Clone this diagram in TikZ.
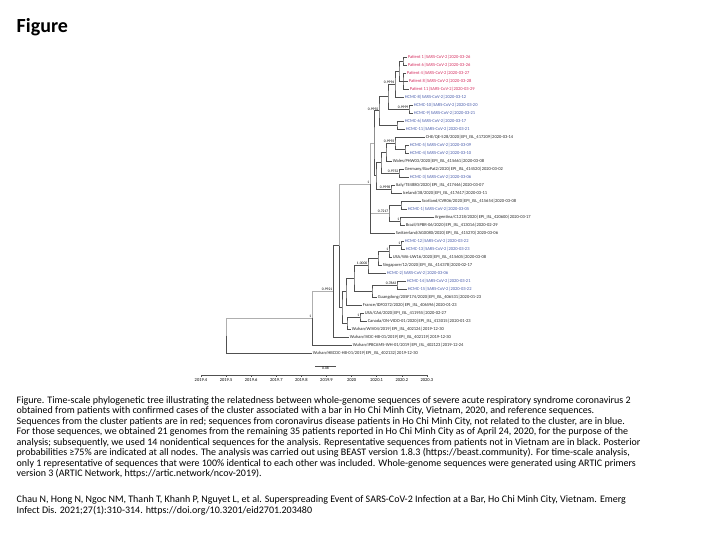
\documentclass[tikz,border=0pt]{standalone}
\usepackage{fontspec}
\setmainfont{Carlito}
\definecolor{clustred}{RGB}{214,46,96}
\definecolor{hcmcblue}{RGB}{72,92,172}
\definecolor{branchdark}{RGB}{80,80,80}
\definecolor{branchlight}{RGB}{175,175,175}
\tikzset{
  br/.style={draw=branchdark, line width=0.6pt},
  brl/.style={draw=branchlight, line width=0.6pt},
  tip/.style={anchor=west, inner sep=0.6pt, font=\fontsize{4.5}{5}\selectfont, text=black!85},
  tipred/.style={tip, text=clustred},
  tipblue/.style={tip, text=hcmcblue},
  post/.style={anchor=south east, inner sep=0.5pt, font=\fontsize{3.7}{4}\selectfont},
  captline/.style={anchor=base west, inner sep=0pt, font=\fontsize{10}{10.5}\selectfont},
}

\begin{document}
\begin{tikzpicture}[x=1pt,y=-1pt]
  % page
  \fill[white] (0,0) rectangle (720,540);
  \useasboundingbox (0,0) rectangle (720,540);
  \node[anchor=base west, inner sep=0pt, font=\fontsize{20}{24}\selectfont\bfseries] (title) at (16.5,33) {Figure};

  % tips, top to bottom
  \node[tipred]  (l1)  at (407,57)  {Patient 1|SARS-CoV-2|2020-03-26};
  \node[tipred]  (l2)  at (407,65)  {Patient 6|SARS-CoV-2|2020-03-26};
  \node[tipred]  (l3)  at (406,73)  {Patient 4|SARS-CoV-2|2020-03-27};
  \node[tipred]  (l4)  at (408,81)  {Patient 8|SARS-CoV-2|2020-03-28};
  \node[tipred]  (l5)  at (409,89)  {Patient 11|SARS-CoV-2|2020-03-29};
  \node[tipblue] (l6)  at (404,97)  {HCMC-8|SARS-CoV-2|2020-03-12};
  \node[tipblue] (l7)  at (413,105) {HCMC-10|SARS-CoV-2|2020-03-20};
  \node[tipblue] (l8)  at (413,113) {HCMC-9|SARS-CoV-2|2020-03-21};
  \node[tipblue] (l9)  at (404,121) {HCMC-6|SARS-CoV-2|2020-03-17};
  \node[tipblue] (l10) at (405,129) {HCMC-11|SARS-CoV-2|2020-03-21};
  \node[tip]     (l11) at (425,137) {CHE/QE-528/2020|EPI\_ISL\_417209|2020-03-14};
  \node[tipblue] (l12) at (409,145) {HCMC-5|SARS-CoV-2|2020-03-09};
  \node[tipblue] (l13) at (409,153) {HCMC-4|SARS-CoV-2|2020-03-10};
  \node[tip]     (l14) at (392,161) {Wales/PHW03/2020|EPI\_ISL\_415661|2020-03-08};
  \node[tip]     (l15) at (404,169) {Germany/BavPat2/2020|EPI\_ISL\_414520|2020-03-02};
  \node[tipblue] (l16) at (409,177) {HCMC-3|SARS-CoV-2|2020-03-06};
  \node[tip]     (l17) at (395,185) {Italy/TE4880/2020|EPI\_ISL\_417446|2020-03-07};
  \node[tip]     (l18) at (402,193) {Iceland/38/2020|EPI\_ISL\_417617|2020-03-11};
  \node[tip]     (l19) at (421,201) {Scotland/CVR06/2020|EPI\_ISL\_415654|2020-03-08};
  \node[tipblue] (l20) at (407,209) {HCMC-1|SARS-CoV-2|2020-03-05};
  \node[tip]     (l21) at (434,217) {Argentina/C1218/2020|EPI\_ISL\_420600|2020-03-17};
  \node[tip]     (l22) at (405,225) {Brazil/SPBR-06/2020|EPI\_ISL\_413016|2020-02-29};
  \node[tip]     (l23) at (395,233) {Switzerland/AG0080/2020|EPI\_ISL\_415270|2020-03-06};
  \node[tipblue] (l24) at (404,241) {HCMC-12|SARS-CoV-2|2020-03-22};
  \node[tipblue] (l25) at (405,249) {HCMC-13|SARS-CoV-2|2020-03-23};
  \node[tip]     (l26) at (392,257) {USA/WA-UW16/2020|EPI\_ISL\_415605|2020-03-08};
  \node[tip]     (l27) at (382,265) {Singapore/12/2020|EPI\_ISL\_414378|2020-02-17};
  \node[tipblue] (l28) at (386,273) {HCMC-2|SARS-CoV-2|2020-03-06};
  \node[tipblue] (l29) at (406,281) {HCMC-14|SARS-CoV-2|2020-03-21};
  \node[tipblue] (l30) at (407,289) {HCMC-15|SARS-CoV-2|2020-03-22};
  \node[tip]     (l31) at (377,297) {Guangdong/20SF174/2020|EPI\_ISL\_406531|2020-01-23};
  \node[tip]     (l32) at (362,305) {France/IDF0372/2020|EPI\_ISL\_406596|2020-01-23};
  \node[tip]     (l33) at (364,313) {USA/CA6/2020|EPI\_ISL\_411955|2020-02-27};
  \node[tip]     (l34) at (367,321) {Canada/ON-VIDO-01/2020|EPI\_ISL\_413015|2020-01-23};
  \node[tip]     (l35) at (351,329) {Wuhan/WIV04/2019|EPI\_ISL\_402124|2019-12-30};
  \node[tip]     (l36) at (349,337) {Wuhan/IVDC-HB-01/2019|EPI\_ISL\_402119|2019-12-30};
  \node[tip]     (l37) at (352,345) {Wuhan/IPBCAMS-WH-01/2019|EPI\_ISL\_402123|2019-12-24};
  \node[tip]     (l38) at (312,353) {Wuhan/HBCDC-HB-01/2019|EPI\_ISL\_402132|2019-12-30};

  % internal nodes
  \coordinate (n1) at (403,61);
  \coordinate (n2) at (403,81);
  \coordinate (n3) at (399,71);
  \coordinate (n4) at (395,84);
  \coordinate (n5) at (409,109);
  \coordinate (n6) at (397,125);
  \coordinate (n7) at (388,96.5);
  \coordinate (n8) at (379,110.75);
  \coordinate (m1) at (405,149);
  \coordinate (m2) at (395,143);
  \coordinate (m3) at (386,152);
  \coordinate (m4) at (399,173);
  \coordinate (m5) at (391,189);
  \coordinate (m6) at (381,162.5);
  \coordinate (m7) at (376,175.75);
  \coordinate (u1) at (374,143.25);
  \coordinate (q1) at (401,205);
  \coordinate (q2) at (400,221);
  \coordinate (q3) at (389,213);
  \coordinate (d1) at (370,184);
  \coordinate (e1) at (401,245);
  \coordinate (e2) at (389,251);
  \coordinate (e3) at (378,258);
  \coordinate (e4) at (368,265.5);
  \coordinate (e5) at (397,285);
  \coordinate (e6) at (372,291);
  \coordinate (e7) at (354,278.25);
  \coordinate (e8) at (346,291.6);
  \coordinate (g1) at (360,317);
  \coordinate (g2) at (347,323);
  \coordinate (e9) at (342,307.3);
  \coordinate (c1) at (339,245.6);
  \coordinate (b1) at (333,291.3);
  \coordinate (a1) at (312,318);
  \coordinate (r0) at (226,335.5);

  % branches
  \draw[br] (l1.west) -| (n1) |- (l2.west);
  \draw[br] (l3.west) -| (n2) |- (l5.west) (n2) |- (l4.west);
  \draw[br] (n1) -| (n3) |- (n2);
  \draw[br] (n3) -| (n4) |- (l6.west);
  \draw[br] (l7.west) -| (n5) |- (l8.west);
  \draw[br] (l9.west) -| (n6) |- (l10.west);
  \draw[br] (n4) -| (n7) |- (n5);
  \draw[br] (n7) -| (n8) |- (n6);
  \draw[br] (l12.west) -| (m1) |- (l13.west);
  \draw[br] (l11.west) -| (m2) |- (m1);
  \draw[br] (m2) -| (m3) |- (l14.west);
  \draw[br] (l15.west) -| (m4) |- (l16.west);
  \draw[br] (l17.west) -| (m5) |- (l18.west);
  \draw[br] (m3) -| (m6) |- (m4);
  \draw[br] (m6) -| (m7) |- (m5);
  \draw[br] (n8) -| (u1) |- (m7);
  \draw[br] (l19.west) -| (q1) |- (l20.west);
  \draw[br] (l21.west) -| (q2) |- (l22.west);
  \draw[br] (q1) -| (q3) |- (q2);
  \draw[brl] (d1) |- (u1) (d1) |- (q3);
  \draw[br] (d1) |- (l23.west);
  \draw[br] (l24.west) -| (e1) |- (l25.west);
  \draw[br] (e1) -| (e2) |- (l26.west);
  \draw[br] (e2) -| (e3) |- (l27.west);
  \draw[br] (e3) -| (e4) |- (l28.west);
  \draw[br] (l29.west) -| (e5) |- (l30.west);
  \draw[br] (e5) -| (e6) |- (l31.west);
  \draw[br] (e4) -| (e7) |- (e6);
  \draw[br] (e7) -| (e8) |- (l32.west);
  \draw[br] (l33.west) -| (g1) |- (l34.west);
  \draw[br] (g1) -| (g2) |- (l35.west);
  \draw[br] (e8) -| (e9) |- (g2);
  \draw[brl] (c1) |- (d1);
  \draw[br] (c1) |- (e9);
  \draw[br] (b1) |- (c1);
  \draw[br] (b1) |- (l36.west);
  \draw[brl] (a1) |- (b1);
  \draw[br] (a1) |- (l37.west);
  \draw[brl] (r0) |- (a1);
  \draw[br] (r0) |- (l38.west);

  % posterior probabilities
  \node[post] (p1)  at (n4) {0.9994};
  \node[post] (p2)  at (n5) {0.9999};
  \node[post] (p3)  at (n8) {0.9992};
  \node[post] (p4)  at (m2) {0.9993};
  \node[post] (p5)  at (m4) {0.9752};
  \node[post] (p6)  at (m5) {0.9998};
  \node[post] (p7)  at (q2) {1};
  \node[post] (p8)  at (q3) {0.7217};
  \node[post] (p9)  at (d1) {1};
  \node[post] (p10) at (e1) {1};
  \node[post] (p11) at (e2) {1};
  \node[post] (p12) at (e4) {1.0000};
  \node[post] (p13) at (e5) {0.7863};
  \node[post] (p14) at (g1) {1};
  \node[post] (p15) at (b1) {0.9921};
  \node[post] (p16) at (a1) {1};

  % scale bar
  \coordinate (sb1) at (315,366);
  \coordinate (sb2) at (336,366);
  \draw[br] (sb1) -- (sb2) node[midway, below, inner sep=1pt, font=\fontsize{3.8}{4}\selectfont] (sbl) {0.08};

  % time axis
  \draw[br] (201,375) -- (427,375);
  \foreach \k/\yr in {0/2019.4,1/2019.5,2/2019.6,3/2019.7,4/2019.8,5/2019.9,6/2020,7/2020.1,8/2020.2,9/2020.3}
    \draw[br] ({201+25.1*\k},375) -- ++(0,2)
      node[below, inner sep=1.2pt, font=\fontsize{4.5}{5}\selectfont] (t\k) {\yr};

  % caption
  \node[captline] (cap1) at (16.5,403) {Figure. Time-scale phylogenetic tree illustrating the relatedness between whole-genome sequences of severe acute respiratory syndrome coronavirus 2};
  \node[captline] (cap2) at (16.5,413.5) {obtained from patients with confirmed cases of the cluster associated with a bar in Ho Chi Minh City, Vietnam, 2020, and reference sequences.};
  \node[captline] (cap3) at (16.5,424) {Sequences from the cluster patients are in red; sequences from coronavirus disease patients in Ho Chi Minh City, not related to the cluster, are in blue.};
  \node[captline] (cap4) at (16.5,434.5) {For those sequences, we obtained 21 genomes from the remaining 35 patients reported in Ho Chi Minh City as of April 24, 2020, for the purpose of the};
  \node[captline] (cap5) at (16.5,445) {analysis; subsequently, we used 14 nonidentical sequences for the analysis. Representative sequences from patients not in Vietnam are in black. Posterior};
  \node[captline] (cap6) at (16.5,455.5) {probabilities ≥75\% are indicated at all nodes. The analysis was carried out using BEAST version 1.8.3 (https://beast.community). For time-scale analysis,};
  \node[captline] (cap7) at (16.5,466) {only 1 representative of sequences that were 100\% identical to each other was included. Whole-genome sequences were generated using ARTIC primers};
  \node[captline] (cap8) at (16.5,476.5) {version 3 (ARTIC Network, https://artic.network/ncov-2019).};
  % citation
  \node[captline] (cite1) at (16.5,502.5) {Chau N, Hong N, Ngoc NM, Thanh T, Khanh P, Nguyet L, et al. Superspreading Event of SARS-CoV-2 Infection at a Bar, Ho Chi Minh City, Vietnam. Emerg};
  \node[captline] (cite2) at (16.5,513) {Infect Dis. 2021;27(1):310-314. https://doi.org/10.3201/eid2701.203480};
\end{tikzpicture}
\end{document}
